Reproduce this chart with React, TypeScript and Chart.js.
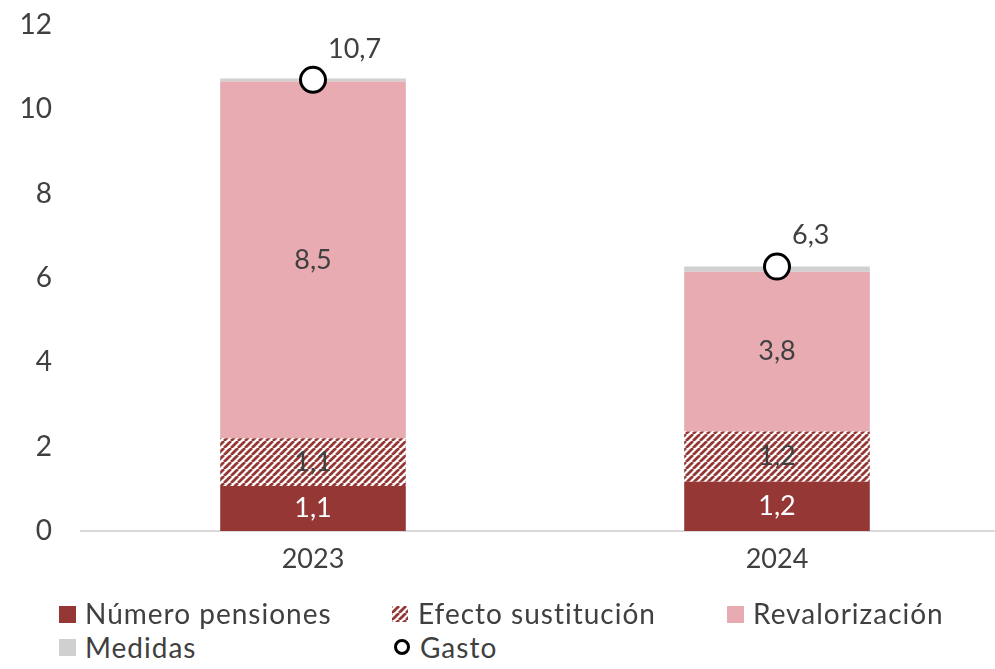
import React, { useEffect, useRef } from "react";
import { Chart, registerables } from "chart.js";
Chart.register(...registerables);

const categories = ["2023", "2024"];
const numeroPensiones = [1.07, 1.17];
const efectoSustitucion = [1.13, 1.19];
const revalorizacion = [8.46, 3.79];
const medidas = [0.07, 0.12];
const gasto = [10.7, 6.27];
const yTicks = [0, 2, 4, 6, 8, 10, 12];

const FONT = "Lato, 'Open Sans', sans-serif";
const TEXT = "#404040";
const C_NUM = "#953735";
const C_REV = "#E8ABB1";
const C_MED = "#D0D0D0";

const fmt = (v: number) => v.toFixed(1).replace(".", ",");

function makeHatch(): CanvasPattern | string {
  const P = 7;
  const c = document.createElement("canvas");
  c.width = P;
  c.height = P;
  const g = c.getContext("2d");
  if (!g) return C_NUM;
  g.fillStyle = "#fff";
  g.fillRect(0, 0, P, P);
  g.strokeStyle = C_NUM;
  g.lineWidth = 2.8;
  g.beginPath();
  for (let k = -1; k <= 1; k++) {
    g.moveTo(k * P, P);
    g.lineTo(k * P + P, 0);
  }
  g.stroke();
  return g.createPattern(c, "repeat") || C_NUM;
}

const labelPlugin = {
  id: "segLabels",
  afterDatasetsDraw(chart: any) {
    const ctx = chart.ctx;
    ctx.save();
    ctx.font = `27px ${FONT}`;
    ctx.textAlign = "center";
    ctx.textBaseline = "middle";
    [0, 1, 2].forEach((di) => {
      const meta = chart.getDatasetMeta(di);
      meta.data.forEach((el: any, i: number) => {
        const p = el.getProps(["x", "y", "base"], true);
        ctx.fillStyle = di === 0 ? "#ffffff" : TEXT;
        ctx.fillText(fmt(chart.data.datasets[di].data[i]), p.x, (p.y + p.base) / 2);
      });
    });
    const gm = chart.getDatasetMeta(4);
    ctx.textAlign = "left";
    gm.data.forEach((el: any, i: number) => {
      ctx.fillStyle = TEXT;
      ctx.fillText(fmt(gasto[i]), el.x + 15, el.y - 31);
    });
    ctx.restore();
  },
};

const legendItems = [
  { label: "Número pensiones", kind: "num", left: 59, row: 0 },
  { label: "Efecto sustitución", kind: "hatch", left: 392, row: 0 },
  { label: "Revalorización", kind: "rev", left: 727, row: 0 },
  { label: "Medidas", kind: "med", left: 59, row: 1 },
  { label: "Gasto", kind: "gasto", left: 394, row: 1 },
];

export default function App() {
  const ref = useRef<HTMLCanvasElement>(null);
  const hatchRef = useRef<HTMLCanvasElement>(null);

  useEffect(() => {
    if (!ref.current) return;
    const hatch = makeHatch();
    const chart = new Chart(ref.current, {
      type: "bar",
      data: {
        labels: categories,
        datasets: [
          { label: "Número pensiones", data: numeroPensiones, backgroundColor: C_NUM, order: 1, stack: "s" },
          { label: "Efecto sustitución", data: efectoSustitucion, backgroundColor: hatch as any, order: 1, stack: "s" },
          { label: "Revalorización", data: revalorizacion, backgroundColor: C_REV, order: 1, stack: "s" },
          { label: "Medidas", data: medidas, backgroundColor: C_MED, order: 1, stack: "s" },
          {
            type: "line",
            label: "Gasto",
            data: gasto,
            showLine: false,
            stack: "g",
            order: 0,
            clip: false,
            pointStyle: "circle",
            pointRadius: 12.5,
            pointBorderWidth: 3,
            pointBackgroundColor: "#ffffff",
            pointBorderColor: "#000000",
            backgroundColor: "#ffffff",
            borderColor: "#000000",
          } as any,
        ],
      },
      options: {
        animation: false,
        responsive: false,
        maintainAspectRatio: false,
        devicePixelRatio: 1,
        datasets: { bar: { barPercentage: 0.4, categoryPercentage: 1 } } as any,
        layout: { autoPadding: false, padding: { top: 25, bottom: 26, left: 0, right: 0 } },
        plugins: { legend: { display: false }, tooltip: { enabled: false } },
        scales: {
          x: {
            stacked: true,
            afterFit: (s: any) => {
              s.height = 43;
              s.paddingLeft = 0;
              s.paddingRight = 0;
            },
            grid: { display: false, drawTicks: false },
            border: { display: true, color: "#D9D9D9", width: 2 },
            ticks: { color: TEXT, font: { family: FONT, size: 27 }, padding: 12 },
          },
          y: {
            stacked: true,
            min: 0,
            max: 12,
            afterFit: (s: any) => {
              s.width = 81;
              s.paddingTop = 0;
              s.paddingBottom = 0;
            },
            afterBuildTicks: (s: any) => {
              s.ticks = yTicks.map((v) => ({ value: v }));
            },
            grid: { display: false, drawTicks: false },
            border: { display: false },
            ticks: { color: TEXT, font: { family: FONT, size: 28 }, padding: 29 },
          },
        },
      },
      plugins: [labelPlugin],
    });

    if (hatchRef.current) {
      const g = hatchRef.current.getContext("2d");
      if (g) {
        g.fillStyle = makeHatch() as any;
        g.fillRect(0, 0, 16, 16);
      }
    }
    return () => chart.destroy();
  }, []);

  return (
    <div
      style={{
        position: "absolute",
        left: 0,
        top: 0,
        width: 995,
        height: 669,
        overflow: "hidden",
        background: "#fff",
        fontFamily: FONT,
      }}
    >
      <canvas ref={ref} width={1009} height={600} style={{ position: "absolute", left: 0, top: 0 }} />
      {legendItems.map((it) => {
        const rowTop = it.row === 0 ? 599 : 633;
        const boxTop = it.row === 0 ? 606 : 639;
        let marker: React.ReactNode;
        if (it.kind === "hatch") {
          marker = (
            <canvas
              ref={hatchRef}
              width={16}
              height={16}
              style={{ position: "absolute", left: it.left, top: boxTop }}
            />
          );
        } else if (it.kind === "gasto") {
          marker = (
            <div
              style={{
                position: "absolute",
                left: it.left,
                top: boxTop,
                width: 10,
                height: 10,
                border: "3px solid #000",
                borderRadius: "50%",
                background: "#fff",
              }}
            />
          );
        } else {
          const col = it.kind === "num" ? C_NUM : it.kind === "rev" ? C_REV : C_MED;
          marker = (
            <div
              style={{ position: "absolute", left: it.left, top: boxTop, width: 17, height: 17, background: col }}
            />
          );
        }
        return (
          <React.Fragment key={it.label}>
            {marker}
            <div
              style={{
                position: "absolute",
                left: it.left + 26,
                top: rowTop,
                fontSize: 28,
                letterSpacing: "1px",
                lineHeight: "28px",
                color: TEXT,
                whiteSpace: "nowrap",
              }}
            >
              {it.label}
            </div>
          </React.Fragment>
        );
      })}
    </div>
  );
}
